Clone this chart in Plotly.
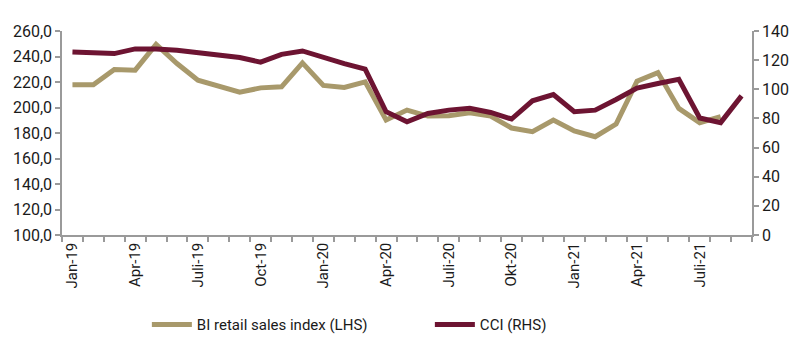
import plotly.graph_objects as go

months = ["Jan-19","Feb-19","Mar-19","Apr-19","Mai-19","Jun-19","Juli-19","Aug-19","Sep-19","Oct-19","Nov-19","Dec-19",
          "Jan-20","Feb-20","Mar-20","Apr-20","Mai-20","Jun-20","Juli-20","Aug-20","Sep-20","Okt-20","Nov-20","Des-20",
          "Jan-21","Feb-21","Mar-21","Apr-21","Mai-21","Jun-21","Juli-21","Aug-21","Sep-21"]
retail = [217.8, 217.8, 229.8, 229.3, 249.5, 234.5, 221.4, 216.7, 212.0, 215.4, 216.2, 235.0,
          217.3, 215.7, 220.1, 190.2, 198.0, 193.3, 193.5, 195.9, 193.3, 183.9, 181.0, 190.2,
          181.6, 177.1, 187.0, 220.6, 227.4, 199.3, 188.1, 192.8, None]
cci = [125.6, 125.2, 124.5, 127.7, 127.7, 126.8, 125.2, 123.8, 121.8, 118.6, 124.0, 126.3,
       121.8, 117.6, 113.8, 84.6, 77.7, 83.4, 85.7, 86.9, 84.1, 79.6, 92.1, 96.4,
       84.6, 85.7, 93.0, 100.8, 104.0, 106.9, 80.3, 77.1, 95.5]
tick_labels = ["Jan-19","Apr-19","Juli-19","Oct-19","Jan-20","Apr-20","Juli-20","Okt-20","Jan-21","Apr-21","Juli-21"]
left_ticks = [100, 120, 140, 160, 180, 200, 220, 240, 260]
right_ticks = [0, 20, 40, 60, 80, 100, 120, 140]

x = list(range(len(months)))
GOLD = "#A8996B"
MAROON = "#6D1432"
AX = "#9A9A9A"
FONT = "Roboto"

fig = go.Figure()
fig.add_trace(go.Scatter(x=x, y=retail, mode="lines", name="BI retail sales index (LHS)",
                         line=dict(color=GOLD, width=5), yaxis="y"))
fig.add_trace(go.Scatter(x=x, y=cci, mode="lines", name="CCI (RHS)",
                         line=dict(color=MAROON, width=5), yaxis="y2"))

fig.update_layout(
    width=800, height=344,
    margin=dict(l=62, r=48, t=31, b=109, autoexpand=False),
    plot_bgcolor="white", paper_bgcolor="white",
    font=dict(family=FONT, size=15, color="#1a1a1a"),
    showlegend=True,
    legend=dict(orientation="h", x=0.123, xanchor="left", y=-0.44, yanchor="middle",
                font=dict(size=15), itemwidth=40, traceorder="normal",
                entrywidth=228, entrywidthmode="pixels"),
    xaxis=dict(range=[-0.5, len(months) - 0.5], tickmode="array",
               tickvals=[months.index(t) for t in tick_labels], ticktext=tick_labels,
               tickangle=-90, ticks="", showgrid=False, zeroline=False,
               showline=True, linecolor=AX, linewidth=1.5,
               minor=dict(ticks="outside", tickmode="linear", tick0=-0.5, dtick=1,
                          ticklen=5, tickcolor=AX, tickwidth=1.5, showgrid=False),
               tickfont=dict(size=15)),
    yaxis=dict(range=[100, 260], tickvals=left_ticks,
               ticktext=[f"{v:.1f}".replace(".", ",") for v in left_ticks],
               showgrid=False, zeroline=False, showline=True, linecolor=AX, linewidth=1.5,
               ticks="outside", ticklen=5, tickcolor=AX, tickwidth=1.5, tickfont=dict(size=16)),
    yaxis2=dict(range=[0, 140], tickvals=right_ticks, overlaying="y", side="right",
                showgrid=False, zeroline=False, showline=True, linecolor=AX, linewidth=1.5,
                ticks="outside", ticklen=5, tickcolor=AX, tickwidth=1.5, tickfont=dict(size=16)),
)

fig.write_html("out.html")
